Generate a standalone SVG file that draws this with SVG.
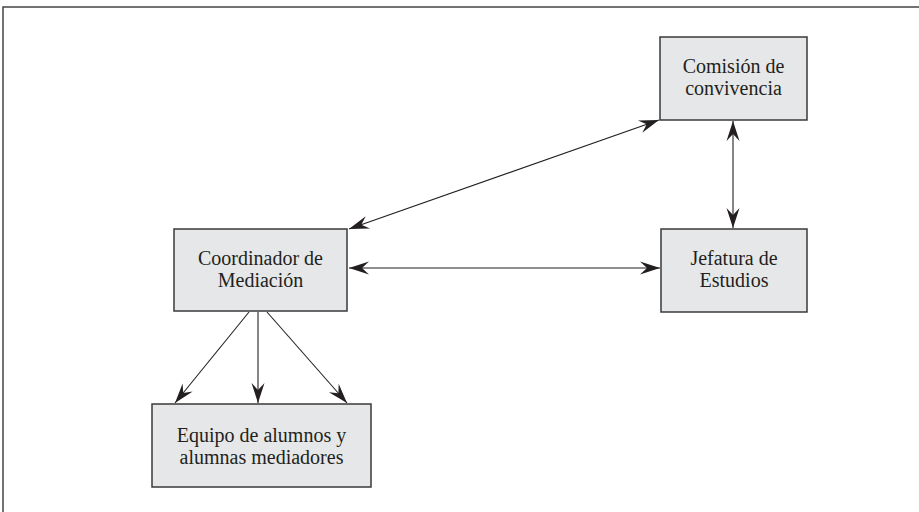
<svg xmlns="http://www.w3.org/2000/svg" width="919" height="512" viewBox="0 0 919 512">
  <style>
    .box { fill: #e6e7e8; stroke: #3a3a3a; stroke-width: 1.5; }
    .lbl { font-family: "Liberation Serif", "Times New Roman", serif; font-size: 20px; fill: #231f20; text-anchor: middle; }
    .conn { stroke: #231f20; stroke-width: 1.1; fill: none; }
    .frame { stroke: #444; stroke-width: 1.5; fill: none; }
  </style>
  <defs>
    <marker id="ah" viewBox="-21 -7 22 14" refX="0" refY="0" markerWidth="22" markerHeight="14" markerUnits="userSpaceOnUse" orient="auto-start-reverse">
      <path d="M0,0 L-20,-6.5 L-13,0 L-20,6.5 Z" fill="#231f20"/>
    </marker>
  </defs>
  <rect width="919" height="512" fill="#ffffff"/>
  <path class="frame" d="M3,512 V7 H919"/>

  <g id="connectors">
    <line class="conn" x1="349" y1="229" x2="659" y2="120" marker-start="url(#ah)" marker-end="url(#ah)"/>
    <line class="conn" x1="349" y1="268" x2="660" y2="268" marker-start="url(#ah)" marker-end="url(#ah)"/>
    <line class="conn" x1="733" y1="121" x2="733" y2="228" marker-start="url(#ah)" marker-end="url(#ah)"/>
    <line class="conn" x1="249" y1="312" x2="175" y2="403" marker-end="url(#ah)"/>
    <line class="conn" x1="258" y1="312" x2="258" y2="403" marker-end="url(#ah)"/>
    <line class="conn" x1="267" y1="312" x2="347" y2="403" marker-end="url(#ah)"/>
  </g>

  <g id="comision">
    <rect class="box" x="660" y="37" width="147" height="83"/>
    <text class="lbl" x="733.5" y="73">Comisión de</text>
    <text class="lbl" x="733.5" y="95">convivencia</text>
  </g>
  <g id="coordinador">
    <rect class="box" x="174" y="229" width="173" height="82"/>
    <text class="lbl" x="260.5" y="265">Coordinador de</text>
    <text class="lbl" x="260.5" y="287">Mediación</text>
  </g>
  <g id="jefatura">
    <rect class="box" x="661" y="229" width="146" height="83"/>
    <text class="lbl" x="734" y="265">Jefatura de</text>
    <text class="lbl" x="734" y="287">Estudios</text>
  </g>
  <g id="equipo">
    <rect class="box" x="152" y="404" width="219" height="83"/>
    <text class="lbl" x="261.5" y="442">Equipo de alumnos y</text>
    <text class="lbl" x="261.5" y="464">alumnas mediadores</text>
  </g>
</svg>
